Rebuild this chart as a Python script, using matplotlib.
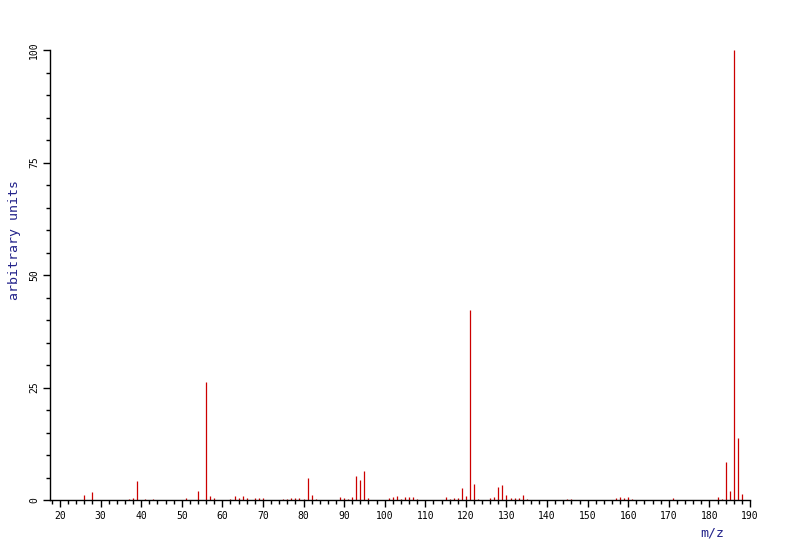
import matplotlib
matplotlib.use("Agg")
import matplotlib.pyplot as plt
from matplotlib.ticker import MultipleLocator

# peaks
mz = [26, 28, 37, 38, 39, 41, 43, 51, 54, 56, 57, 58,
      62, 63, 64, 65, 66, 68, 69, 70, 75, 76, 77, 78, 79, 80,
      81, 82, 83, 89, 90, 91, 92, 93, 94, 95, 96,
      101, 102, 103, 104, 105, 106, 107, 108,
      115, 116, 117, 118, 119, 120, 121, 122, 123, 126, 127,
      128, 129, 130, 131, 132, 133, 134, 135,
      145, 146, 157, 158, 159, 160, 161, 171,
      182, 183, 184, 185, 186, 187, 188]
intensity = [1.2, 1.7, 0.3, 0.5, 4.3, 0.3, 0.3, 0.5, 2.1, 26.2, 1.0, 0.4,
             0.3, 1.0, 0.4, 1.0, 0.4, 0.4, 0.4, 0.4, 0.3, 0.3, 0.4, 0.4, 0.4, 0.3,
             5.0, 1.2, 0.3, 0.7, 0.4, 0.3, 0.7, 5.3, 4.5, 6.5, 0.5,
             0.4, 0.6, 0.9, 0.3, 0.6, 0.6, 0.6, 0.3,
             0.7, 0.3, 0.4, 0.5, 2.7, 1.0, 42.2, 3.5, 0.3, 0.5, 0.7,
             3.0, 3.3, 1.2, 0.5, 0.5, 0.4, 1.2, 0.3,
             0.3, 0.3, 0.4, 0.7, 0.5, 0.7, 0.3, 0.5,
             0.7, 0.3, 8.5, 1.9, 100, 13.7, 1.3]

mono = "DejaVu Sans Mono"
navy = "#22228a"

fig = plt.figure(figsize=(8, 5.4), dpi=100)
ax = fig.add_axes([50 / 800, 1 - 500 / 540, 700 / 800, 450 / 540])

ax.vlines(mz, 0, intensity, color="#cc0000", lw=0.9)

ax.set_xlim(17.53, 190)
ax.set_ylim(0, 100)
ax.spines["top"].set_visible(False)
ax.spines["right"].set_visible(False)
ax.spines["left"].set_linewidth(1)
ax.spines["bottom"].set_linewidth(1)

ax.xaxis.set_major_locator(MultipleLocator(10))
ax.xaxis.set_minor_locator(MultipleLocator(2))
ax.yaxis.set_major_locator(MultipleLocator(25))
ax.yaxis.set_minor_locator(MultipleLocator(5))
ax.tick_params(which="major", length=5, width=1, labelsize=7, pad=3)
ax.tick_params(which="minor", length=3, width=1)
for lab in ax.get_xticklabels() + ax.get_yticklabels():
    lab.set_fontfamily(mono)
for lab in ax.get_yticklabels():
    lab.set_rotation(90)
    lab.set_va("center")

fig.text(15 / 800, 1 - 240 / 540, "arbitrary units", rotation=90,
         ha="center", va="center", fontsize=9.5, color=navy, family=mono)
fig.text(712 / 800, 1 - 533 / 540, "m/z", ha="center", va="center",
         fontsize=9.5, color=navy, family=mono)

fig.savefig("out.png", dpi=100)
